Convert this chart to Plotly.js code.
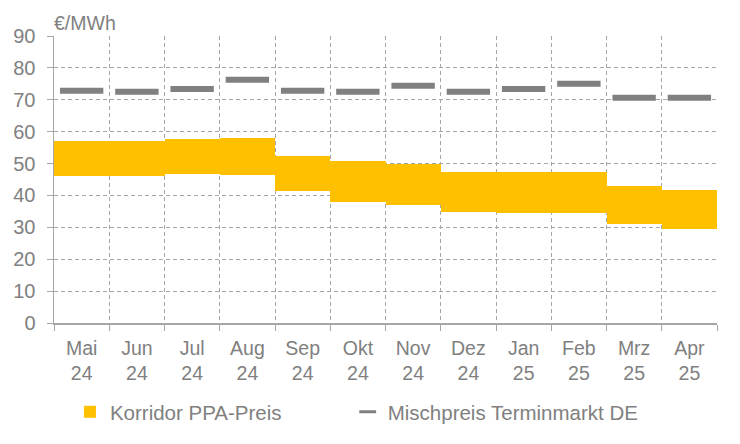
<!DOCTYPE html>
<html><head><meta charset="utf-8">
<script src="https://cdn.plot.ly/plotly-3.0.1.min.js"></script>
<style>body{margin:0;}#chart{width:740px;height:444px;}</style>
</head><body><div id="chart"></div>
<script>
const categories = ["Mai<br>24","Jun<br>24","Jul<br>24","Aug<br>24","Sep<br>24","Okt<br>24","Nov<br>24","Dez<br>24","Jan<br>25","Feb<br>25","Mrz<br>25","Apr<br>25"];
const ppaLow  = [46.2, 46.2, 46.8, 46.5, 41.5, 37.9, 37.1, 34.9, 34.6, 34.6, 31.2, 29.6];
const ppaHigh = [57.1, 57.1, 57.8, 58.1, 52.5, 50.8, 50.0, 47.2, 47.2, 47.5, 43.1, 41.8];
const mischpreis = [72.8, 72.5, 73.4, 76.3, 72.8, 72.5, 74.4, 72.5, 73.4, 75.0, 70.6, 70.6];
const yTicks = [0,10,20,30,40,50,60,70,80,90];

const gray = "#808080";
const lineGray = "#a6a6a6";
const traces = [
  {type:"bar", name:"Korridor PPA-Preis", x:categories, base:ppaLow, legend:"legend",
   y:ppaHigh.map((h,i)=>h-ppaLow[i]), marker:{color:"#FFC000"}, width:1, hoverinfo:"skip"},
  {type:"scatter", mode:"markers", name:"Mischpreis Terminmarkt DE", x:categories, y:mischpreis,
   showlegend:false,
   marker:{symbol:"line-ew", size:31, color:gray, line:{color:gray, width:6}}, hoverinfo:"skip"},
  {type:"scatter", mode:"markers", name:"Mischpreis Terminmarkt DE", x:[null], y:[null], legend:"legend2",
   marker:{symbol:"line-ew", size:12, color:gray, line:{color:gray, width:3}}, hoverinfo:"skip"}
];
const font = {family:"Liberation Sans, Arial, sans-serif", size:19.5, color:gray};
const legendFont = {family:font.family, size:20.5, color:gray};
const layout = {
  width:740, height:444, margin:{l:54, r:23, t:36, b:121},
  paper_bgcolor:"#fff", plot_bgcolor:"#fff", font:font, bargap:0, showlegend:true,
  xaxis:{type:"category", tickson:"boundaries", ticks:"outside", ticklen:6, tickcolor:lineGray,
    showgrid:true, gridcolor:lineGray, griddash:"4px,3px", gridwidth:1, ticklabelstandoff:7,
    showline:true, linecolor:lineGray, linewidth:1.5, tickfont:{family:font.family, size:19.5, color:gray}, range:[-0.5,11.5]},
  yaxis:{range:[0,90], tickvals:yTicks, ticks:"outside", ticklen:6, tickcolor:lineGray,
    showgrid:true, gridcolor:lineGray, griddash:"4px,3px", gridwidth:1, zeroline:false, ticklabelstandoff:7,
    showline:true, linecolor:lineGray, linewidth:1.5, tickfont:{family:font.family, size:20, color:gray}},
  legend:{orientation:"h", x:0.024, xanchor:"left", y:-0.31, yanchor:"middle", font:legendFont, itemwidth:30},
  legend2:{orientation:"h", x:0.443, xanchor:"left", y:-0.31, yanchor:"middle", font:legendFont, itemwidth:30},
  annotations:[{text:"€/MWh", xref:"paper", yref:"paper", x:0, xanchor:"left", y:1.0, yanchor:"bottom",
    xshift:-2, yshift:0, showarrow:false, font:{family:font.family, size:19.5, color:gray}}]
};
Plotly.newPlot("chart", traces, layout, {staticPlot:true});
</script></body></html>
